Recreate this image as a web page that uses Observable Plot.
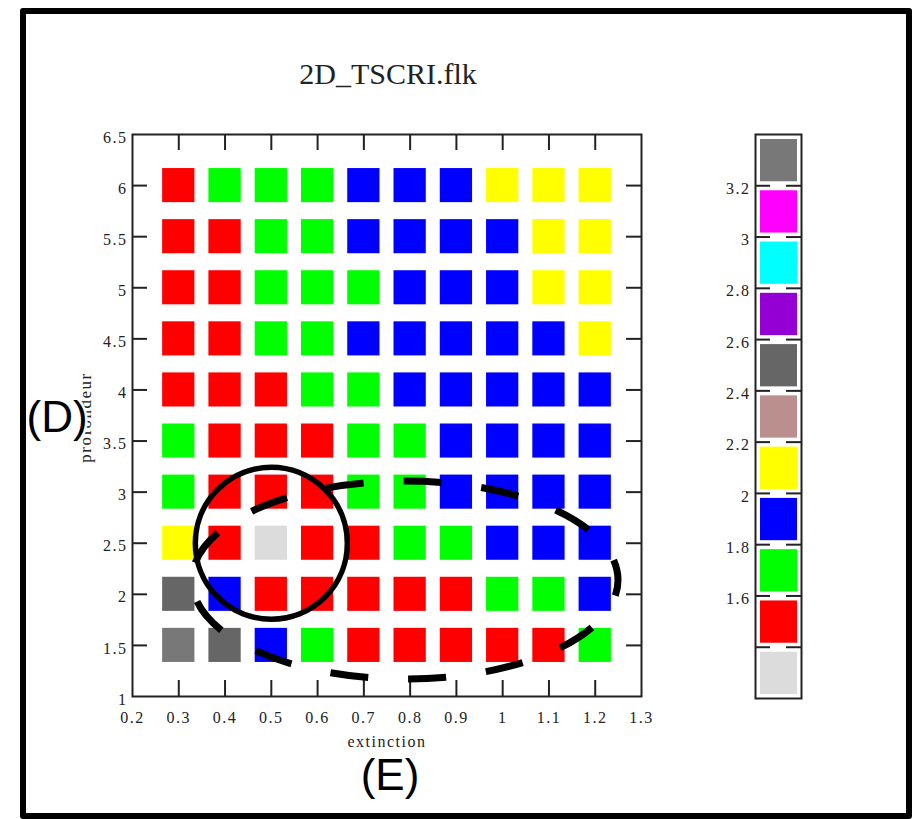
<!DOCTYPE html>
<html><head><meta charset="utf-8">
<script src="https://cdn.jsdelivr.net/npm/d3@7"></script>
<script src="https://cdn.jsdelivr.net/npm/@observablehq/plot@0.6"></script>
<style>
html,body{margin:0;padding:0;background:#fff;}
#wrap{position:relative;width:918px;height:819px;overflow:hidden;background:#fff;}
#wrap svg{position:absolute;top:0;}
#border{position:absolute;left:20px;top:8px;width:892px;height:811px;border:6px solid #000;box-sizing:border-box;pointer-events:none;border-radius:3px;z-index:10;}
</style></head><body>
<div id="wrap"></div>
<script>
// ---- data ----
const titleText = "2D_TSCRI.flk";
const xLabel = "extinction";
const yLabel = "profondeur";
const xValues = [0.3, 0.4, 0.5, 0.6, 0.7, 0.8, 0.9, 1.0, 1.1, 1.2];
const yValues = [6, 5.5, 5, 4.5, 4, 3.5, 3, 2.5, 2, 1.5];
// estimated values per cell (row = y from 6 down to 1.5, col = x from 0.3 to 1.2)
const row60 = [1.5, 1.7, 1.7, 1.7, 1.9, 1.9, 1.9, 2.1, 2.1, 2.1];
const row55 = [1.5, 1.5, 1.7, 1.7, 1.9, 1.9, 1.9, 1.9, 2.1, 2.1];
const row50 = [1.5, 1.5, 1.7, 1.7, 1.7, 1.9, 1.9, 1.9, 2.1, 2.1];
const row45 = [1.5, 1.5, 1.7, 1.7, 1.9, 1.9, 1.9, 1.9, 1.9, 2.1];
const row40 = [1.5, 1.5, 1.5, 1.7, 1.7, 1.9, 1.9, 1.9, 1.9, 1.9];
const row35 = [1.7, 1.5, 1.5, 1.5, 1.7, 1.7, 1.9, 1.9, 1.9, 1.9];
const row30 = [1.7, 1.5, 1.5, 1.5, 1.7, 1.7, 1.9, 1.9, 1.9, 1.9];
const row25 = [2.1, 1.5, 1.3, 1.5, 1.5, 1.7, 1.7, 1.9, 1.9, 1.9];
const row20 = [2.5, 1.9, 1.5, 1.5, 1.5, 1.5, 1.5, 1.7, 1.7, 1.9];
const row15 = [3.3, 2.5, 1.9, 1.7, 1.5, 1.5, 1.5, 1.5, 1.5, 1.7];
const gridRows = [row60, row55, row50, row45, row40, row35, row30, row25, row20, row15];
const thresholds = [1.4, 1.6, 1.8, 2.0, 2.2, 2.4, 2.6, 2.8, 3.0, 3.2];
const binColors = ["#dcdcdc", "#ff0000", "#00ff00", "#0000ff", "#ffff00", "#bc8f8f", "#666666", "#9400d3", "#00ffff", "#ff00ff", "#787878"];
const xTickLabels = [0.2, 0.3, 0.4, 0.5, 0.6, 0.7, 0.8, 0.9, 1, 1.1, 1.2, 1.3];
const xTickMarks = [0.3, 0.4, 0.5, 0.6, 0.7, 0.8, 0.9, 1, 1.1, 1.2];
const yTickLabels = [1, 1.5, 2, 2.5, 3, 3.5, 4, 4.5, 5, 5.5, 6, 6.5];
const yTickMarks = [1.5, 2, 2.5, 3, 3.5, 4, 4.5, 5, 5.5, 6];
const legendTickLabels = [1.6, 1.8, 2, 2.2, 2.4, 2.6, 2.8, 3, 3.2];
const annotationD = ["(D)"];
const annotationE = ["(E)"];
const circleCenter = [{x: 0.5, y: 2.5}];
const ellipseCenter = [{x: 0.79, y: 2.135}];

// ---- build ----
const cells = [];
gridRows.forEach((row, i) => row.forEach((v, j) => cells.push({x: xValues[j], y: yValues[i], v})));
const legendBins = binColors.map((c, i) => {
  const lo = i === 0 ? thresholds[0] - 0.2 : thresholds[i - 1];
  const hi = i === thresholds.length ? thresholds[i - 1] + 0.2 : thresholds[i];
  return {lo, hi, v: (lo + hi) / 2};
});

const W = 918, H = 819, mL = 132, mR = 277, mT = 134, mB = 123;
const pw = W - mL - mR, ph = H - mT - mB;
const serif = "Liberation Serif";
const sans = "Liberation Sans";
const ink = "#222";
const colorOpts = {type: "threshold", domain: thresholds, range: binColors};

const main = Plot.plot({
  width: W, height: H,
  marginLeft: mL, marginRight: mR, marginTop: mT, marginBottom: mB,
  x: {domain: [0.2, 1.3], axis: null},
  y: {domain: [1, 6.5], axis: null},
  color: colorOpts,
  style: {fontFamily: serif, background: "transparent", color: ink, letterSpacing: "1.5px"},
  marks: [
    Plot.rect(cells, {
      x1: d => d.x - 0.05, x2: d => d.x + 0.05,
      y1: d => d.y - 0.25, y2: d => d.y + 0.25,
      fill: "v", insetLeft: 7, insetRight: 7, insetTop: 8.5, insetBottom: 8.5
    }),
    Plot.ruleX(xTickMarks, {x: d => d, insetTop: ph - 16, stroke: ink, strokeWidth: 2}),
    Plot.ruleX(xTickMarks, {x: d => d, insetBottom: ph - 16, stroke: ink, strokeWidth: 2}),
    Plot.ruleY(yTickMarks, {y: d => d, insetRight: pw - 15, stroke: ink, strokeWidth: 2}),
    Plot.ruleY(yTickMarks, {y: d => d, insetLeft: pw - 15, stroke: ink, strokeWidth: 2}),
    Plot.frame({stroke: ink, strokeWidth: 2}),
    Plot.axisX({ticks: xTickLabels, tickSize: 0, tickPadding: 15, tickFormat: d => String(d), label: null, fontSize: 16, fontFamily: serif}),
    Plot.axisY({ticks: yTickLabels, tickSize: 0, tickPadding: 5, tickFormat: d => String(d), label: null, fontSize: 16, fontFamily: serif, dy: 3}),
    Plot.text([xLabel], {text: d => d, frameAnchor: "bottom", lineAnchor: "middle", textAnchor: "middle", dy: 45, fontSize: 16, fontFamily: serif, fill: ink}),
    Plot.text([yLabel], {text: d => d, frameAnchor: "left", lineAnchor: "middle", textAnchor: "middle", dx: -47, dy: 2, rotate: -90, fontSize: 17, fontFamily: serif, fill: ink}),
    Plot.text([titleText], {text: d => d, frameAnchor: "top", lineAnchor: "middle", textAnchor: "middle", dx: 1, dy: -60, fontSize: 30, fontFamily: serif, fill: ink}),
    Plot.dot(circleCenter, {x: "x", y: "y", r: 76, stroke: "#000", strokeWidth: 5.5, fill: "none"}),
    Plot.text(annotationD, {text: d => d, frameAnchor: "left", lineAnchor: "middle", textAnchor: "start", dx: -106, dy: 2, fontFamily: sans, fontSize: 44, fill: "#000", stroke: "#fff", strokeWidth: 5, paintOrder: "stroke"}),
    Plot.text(annotationE, {text: d => d, frameAnchor: "bottom", lineAnchor: "middle", textAnchor: "middle", dx: 3, dy: 79, fontFamily: sans, fontSize: 44, fill: "#000"})
  ]
});

// dashed ellipse annotation, positioned through the plot's scales
const sx = main.scale("x"), sy = main.scale("y");
d3.select(main).append("ellipse")
  .attr("cx", sx.apply(ellipseCenter[0].x))
  .attr("cy", sy.apply(ellipseCenter[0].y))
  .attr("rx", 213).attr("ry", 99)
  .attr("fill", "none").attr("stroke", "#000").attr("stroke-width", 7)
  .attr("stroke-dasharray", "38 40").attr("stroke-dashoffset", 22);
// the annotation letters and the title use normal spacing
d3.select(main).selectAll("text").filter(function () { return /^\((D|E)\)$/.test(this.textContent) || this.textContent === titleText; }).style("letter-spacing", "0px");

const LW = 140, lL = 75, lR = 19;
const legend = Plot.plot({
  width: LW, height: H,
  marginLeft: lL, marginRight: lR, marginTop: mT, marginBottom: 121,
  x: {domain: [0, 1], axis: null},
  y: {domain: [thresholds[0] - 0.2, thresholds[thresholds.length - 1] + 0.2], axis: null},
  color: colorOpts,
  style: {fontFamily: serif, background: "transparent", color: ink, letterSpacing: "1.5px"},
  marks: [
    Plot.rect(legendBins, {y1: "lo", y2: "hi", fill: "v", insetLeft: 5, insetRight: 4, insetTop: 5, insetBottom: 4}),
    Plot.ruleY(thresholds, {y: d => d, insetRight: (LW - lL - lR) - 15, stroke: ink, strokeWidth: 2}),
    Plot.ruleY(thresholds, {y: d => d, insetLeft: (LW - lL - lR) - 15, stroke: ink, strokeWidth: 2}),
    Plot.frame({stroke: ink, strokeWidth: 2}),
    Plot.axisY({ticks: legendTickLabels, tickSize: 0, tickPadding: 5, tickFormat: d => String(d), label: null, fontSize: 16, fontFamily: serif, dy: 3})
  ]
});

const wrap = document.getElementById("wrap");
main.style.left = "0px";
legend.style.left = "680px";
wrap.appendChild(main);
wrap.appendChild(legend);
const border = document.createElement("div");
border.id = "border";
wrap.appendChild(border);
</script>
</body></html>
